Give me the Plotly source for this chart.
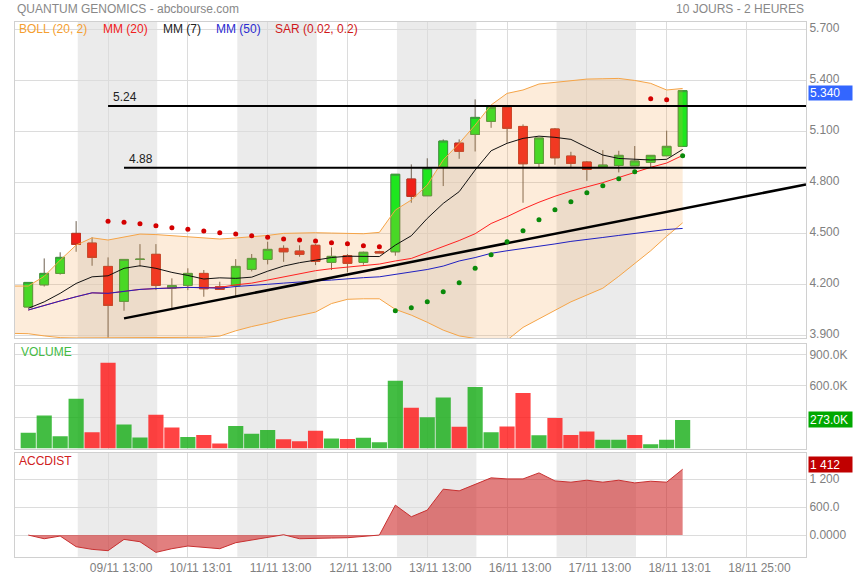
import plotly.graph_objects as go

# ---------------- data ----------------
idx = list(range(42))
opens = [4.07, 4.20, 4.267, 4.502, 4.445, 4.308, 4.103, 4.349, 4.379, 4.181,
         4.197, 4.267, 4.189, 4.195, 4.291, 4.349, 4.414, 4.398, 4.432, 4.332,
         4.371, 4.332, 4.394, 4.394, 4.821, 4.723, 4.890, 5.032, 5.083, 5.160,
         5.242, 5.130, 4.913, 5.115, 4.956, 4.921, 4.891, 4.901, 4.899, 4.919,
         4.958, 5.013]
highs = [4.214, 4.355, 4.391, 4.574, 4.479, 4.361, 4.349, 4.439, 4.439, 4.238,
         4.297, 4.287, 4.218, 4.351, 4.381, 4.453, 4.432, 4.432, 4.439, 4.420,
         4.381, 4.395, 4.400, 4.849, 4.907, 4.943, 5.054, 5.054, 5.289, 5.245,
         5.245, 5.142, 5.062, 5.121, 4.981, 4.927, 4.991, 4.987, 5.015, 4.960,
         5.105, 5.342]
lows = [4.07, 4.19, 4.26, 4.394, 4.312, 3.88, 4.048, 4.306, 4.169, 4.062,
        4.169, 4.130, 4.173, 4.130, 4.279, 4.320, 4.335, 4.365, 4.316, 4.287,
        4.273, 4.318, 4.385, 4.371, 4.682, 4.723, 4.780, 4.940, 4.983, 5.122,
        5.034, 4.682, 4.890, 4.905, 4.890, 4.811, 4.891, 4.860, 4.899, 4.890,
        4.958, 5.013]
closes = [4.214, 4.267, 4.361, 4.437, 4.361, 4.079, 4.349, 4.350, 4.197, 4.195,
          4.267, 4.177, 4.173, 4.308, 4.355, 4.408, 4.394, 4.379, 4.338, 4.367,
          4.326, 4.391, 4.388, 4.849, 4.719, 4.884, 5.044, 4.984, 5.183, 5.242,
          5.119, 4.911, 5.062, 4.946, 4.913, 4.878, 4.903, 4.960, 4.927, 4.960,
          5.013, 5.340]

mm7 = [4.062, 4.10, 4.150, 4.208, 4.247, 4.253, 4.297, 4.312, 4.297, 4.273,
       4.255, 4.234, 4.241, 4.238, 4.245, 4.28, 4.31, 4.33, 4.345, 4.36,
       4.368, 4.368, 4.366, 4.433, 4.488, 4.590, 4.678, 4.747, 4.874, 4.987,
       5.031, 5.060, 5.073, 5.066, 5.054, 5.007, 4.962, 4.942, 4.938, 4.933,
       4.937, 4.995]
mm50 = [4.052, 4.08, 4.105, 4.13, 4.153, 4.150, 4.16, 4.173, 4.178, 4.182,
        4.185, 4.183, 4.18, 4.19, 4.195, 4.203, 4.21, 4.218, 4.223, 4.228,
        4.236, 4.242, 4.247, 4.26, 4.275, 4.29, 4.31, 4.34, 4.36, 4.385,
        4.40, 4.412, 4.425, 4.44, 4.455, 4.465, 4.478, 4.49, 4.503, 4.515,
        4.525, 4.531]
mm20 = [4.052, 4.08, 4.105, 4.13, 4.153, 4.150, 4.16, 4.173, 4.178, 4.182,
        4.185, 4.183, 4.185, 4.20, 4.21, 4.228, 4.245, 4.265, 4.283, 4.295,
        4.305, 4.316, 4.322, 4.34, 4.355, 4.39, 4.425, 4.46, 4.50, 4.56,
        4.60, 4.645, 4.685, 4.72, 4.75, 4.775, 4.80, 4.83, 4.86, 4.89,
        4.915, 4.96]

boll_x = list(range(-1, 42))
boll_up = [4.193, 4.193, 4.25, 4.345, 4.433, 4.476, 4.463, 4.482, 4.498, 4.495,
           4.488, 4.48, 4.472, 4.469, 4.475, 4.482, 4.49, 4.502, 4.505, 4.506,
           4.504, 4.50, 4.50, 4.508, 4.639, 4.698, 4.786, 4.933, 5.031, 5.138,
           5.256, 5.324, 5.344, 5.379, 5.39, 5.40, 5.408, 5.41, 5.412, 5.40,
           5.383, 5.344, 5.353]
boll_lo = [3.915, 3.913, 3.90, 3.89, 3.888, 3.888, 3.888, 3.888, 3.888, 3.888,
           3.888, 3.888, 3.892, 3.899, 3.93, 3.955, 3.975, 4.00, 4.02, 4.04,
           4.09, 4.115, 4.118, 4.118, 4.056, 4.022, 3.98, 3.934, 3.90, 3.885,
           3.87, 3.875, 3.95, 4.00, 4.05, 4.10, 4.14, 4.18, 4.25, 4.326,
           4.40, 4.485, 4.564]

sar = [None, None, None, None, None, 4.574, 4.568, 4.558, 4.547, 4.535,
       4.527, 4.516, 4.506, 4.498, 4.488, 4.480, 4.469, 4.463, 4.457, 4.447,
       4.441, 4.429, 4.424, 4.048, 4.065, 4.100, 4.159, 4.212, 4.298, 4.377,
       4.453, 4.518, 4.582, 4.641, 4.688, 4.741, 4.782, 4.823, 4.864, 5.292,
       5.287, 4.958]

volume = [150e3, 315e3, 118e3, 477e3, 156e3, 821e3, 229e3, 105e3, 324e3, 200e3,
          111e3, 130e3, 48e3, 216e3, 140e3, 178e3, 89e3, 70e3, 169e3, 95e3,
          92e3, 102e3, 60e3, 649e3, 391e3, 299e3, 487e3, 207e3, 589e3, 156e3,
          210e3, 531e3, 127e3, 293e3, 130e3, 162e3, 83e3, 83e3, 130e3, 41e3,
          83e3, 273e3]
vol_up = [1, 1, 1, 1, 0, 0, 1, 1, 0, 0,
          1, 0, 0, 1, 1, 1, 0, 0, 0, 1,
          0, 1, 1, 1, 0, 1, 1, 0, 1, 1,
          0, 0, 1, 0, 0, 0, 1, 1, 0, 1,
          1, 1]

accdist = [0, -79, -21, -250, -307, -336, -93, -143, -372, -293,
           -236, -271, -293, -164, -107, -36, 7, -79, -79, -64,
           -57, -21, 0, 643, 393, 536, 986, 950, 1086, 1229,
           1207, 1207, 1336, 1164, 1136, 1179, 1136, 1179, 1121, 1157,
           1136, 1414]

tick_pos = [5, 10, 15, 20, 25, 30, 35, 40, 45]
tick_text = ["09/11 13:00", "10/11 13:01", "11/11 13:00", "12/11 13:00",
             "13/11 13:00", "16/11 13:00", "17/11 13:00", "18/11 13:01",
             "18/11 25:00"]
session_starts = [3.1, 13.1, 23.1, 33.1]

price_ticks = [3.9, 4.2, 4.5, 4.8, 5.1, 5.4, 5.7]
vol_ticks = [300e3, 600e3, 900e3]
vol_text = ["", "600.0K", "900.0K"]
acc_ticks = [0, 600, 1200]
acc_text = ["0.0000", "600.0", "1 200"]

hline_524 = (5, 5.25, "5.24")
hline_488 = (6, 4.887, "4.88")
trend_x = [6, 48.73]
trend_y = [4.003, 4.789]

# ---------------- figure ----------------
W, H = 855, 580
def py(p):
    return 1 - p / H

GRID = "#dcdcdc"
BORDER = "#d0d0d0"
TXT = "#808080"
FONT = "Liberation Sans, Arial, sans-serif"

fig = go.Figure()

# Bollinger
fig.add_trace(go.Scatter(x=boll_x, y=boll_lo, mode="lines",
                         line=dict(color="#f5a447", width=1), hoverinfo="skip",
                         xaxis="x", yaxis="y"))
fig.add_trace(go.Scatter(x=boll_x, y=boll_up, mode="lines", fill="tonexty",
                         fillcolor="rgba(245,160,70,0.2)",
                         line=dict(color="#f5a447", width=1), hoverinfo="skip",
                         xaxis="x", yaxis="y"))
# moving averages
fig.add_trace(go.Scatter(x=idx, y=mm20, mode="lines",
                         line=dict(color="#ff2020", width=1), xaxis="x", yaxis="y"))
fig.add_trace(go.Scatter(x=idx, y=mm50, mode="lines",
                         line=dict(color="#2020c0", width=1), xaxis="x", yaxis="y"))
fig.add_trace(go.Scatter(x=idx, y=mm7, mode="lines",
                         line=dict(color="#111111", width=1), xaxis="x", yaxis="y"))
# trend line
fig.add_trace(go.Scatter(x=trend_x, y=trend_y, mode="lines",
                         line=dict(color="#000000", width=2.5), xaxis="x", yaxis="y"))

# candles: wicks then bodies
fig.add_trace(go.Candlestick(
    x=idx, open=opens, high=highs, low=lows, close=closes,
    increasing=dict(line=dict(color="#6e6050", width=1), fillcolor="#1ee61e"),
    decreasing=dict(line=dict(color="#6e6050", width=1), fillcolor="#f0201a"),
    xaxis="x", yaxis="y", hoverinfo="skip"))
body_hi = [max(o, c) for o, c in zip(opens, closes)]
body_lo = [min(o, c) for o, c in zip(opens, closes)]
fig.add_trace(go.Candlestick(
    x=idx, open=opens, high=body_hi, low=body_lo, close=closes,
    increasing=dict(line=dict(color="#3c9c3c", width=1), fillcolor="#1ee61e"),
    decreasing=dict(line=dict(color="#c83020", width=1), fillcolor="#f0201a"),
    xaxis="x", yaxis="y", hoverinfo="skip"))

# SAR dots
sar_col = []
for s, h, l in zip(sar, highs, lows):
    if s is None:
        sar_col.append("rgba(0,0,0,0)")
    elif s >= h:
        sar_col.append("#d40000")
    else:
        sar_col.append("#0a8a0a")
fig.add_trace(go.Scatter(x=idx, y=sar, mode="markers",
                         marker=dict(color=sar_col, size=5), xaxis="x", yaxis="y"))

# volume
fig.add_trace(go.Bar(x=idx, y=volume,
                     marker=dict(color=["rgba(20,172,20,0.8)" if u else "rgba(255,20,20,0.8)"
                                        for u in vol_up], line=dict(width=0)),
                     xaxis="x2", yaxis="y2"))
# accdist
fig.add_trace(go.Scatter(x=idx, y=accdist, mode="lines", fill="tozeroy",
                         fillcolor="rgba(205,35,35,0.58)",
                         line=dict(color="#c83030", width=1), xaxis="x3", yaxis="y3"))

xr = [-0.83, 48.73]
xdom = [15 / W, 806 / W]
common_x = dict(range=xr, domain=xdom, tickvals=tick_pos, showgrid=True, gridcolor=GRID,
                gridwidth=1, zeroline=False, showline=True, mirror=True,
                linecolor=BORDER, ticks="", fixedrange=True)

layout = dict(
    width=W, height=H, margin=dict(l=0, r=0, t=0, b=0),
    paper_bgcolor="white", plot_bgcolor="white", showlegend=False,
    font=dict(family=FONT, size=12, color=TXT),
    boxgap=0.22, bargap=0.05, hovermode=False,
    xaxis=dict(common_x, anchor="y", showticklabels=False, rangeslider=dict(visible=False)),
    xaxis2=dict(common_x, anchor="y2", showticklabels=False),
    xaxis3=dict(common_x, anchor="y3", showticklabels=True, ticktext=tick_text,
                ticklabelshift=13, tickfont=dict(size=12, color=TXT)),
    yaxis=dict(domain=[py(338.3), py(21.7)], range=[3.886, 5.745], side="right",
               tickvals=price_ticks, ticktext=["%.3f" % v for v in price_ticks],
               ticklabelshift=-2,
               showgrid=True, gridcolor=GRID, zeroline=False, showline=True,
               mirror=True, linecolor=BORDER, ticks="", anchor="x", automargin=False),
    yaxis2=dict(domain=[py(448.5), py(344)], range=[0, 1.0e6], side="right",
                tickvals=vol_ticks, ticktext=vol_text, showgrid=True, gridcolor=GRID,
                zeroline=False, showline=True, mirror=True, linecolor=BORDER,
                ticks="", anchor="x2", automargin=False),
    yaxis3=dict(domain=[py(556.7), py(452.7)], range=[-465, 1770], side="right",
                tickvals=acc_ticks, ticktext=acc_text, showgrid=True, gridcolor=GRID,
                zeroline=False, showline=True, mirror=True, linecolor=BORDER,
                ticks="", anchor="x3", automargin=False),
)
fig.update_layout(**layout)

# session shading
shapes = []
for s in session_starts:
    for yr in ["y domain", "y2 domain", "y3 domain"]:
        xa = {"y domain": "x", "y2 domain": "x2", "y3 domain": "x3"}[yr]
        shapes.append(dict(type="rect", xref=xa, yref=yr, x0=s, x1=s + 4.98, y0=0, y1=1,
                           fillcolor="#ebebeb", line=dict(width=0), layer="below"))
# horizontal levels
for (x0, yv, lab) in [hline_524, hline_488]:
    shapes.append(dict(type="line", xref="x", yref="y", x0=x0, x1=50, y0=yv, y1=yv,
                       line=dict(color="#000000", width=2)))
fig.update_layout(shapes=shapes)

ann = []
def text(x, y, t, color, size=12, xanchor="left", **kw):
    ann.append(dict(xref="paper", yref="paper", x=x / W, y=py(y), text=t, showarrow=False,
                    xanchor=xanchor, yanchor="middle", font=dict(color=color, size=size,
                                                                 family=FONT), **kw))

text(15, 9, "QUANTUM GENOMICS - abcbourse.com", "#888888", 12)
text(806, 9, "10 JOURS - 2 HEURES", "#888888", 12, xanchor="right")
text(17, 29, "BOLL (20, 2)", "#f5a030")
text(101, 29, "MM (20)", "#f02020")
text(161, 29, "MM (7)", "#222222")
text(214, 29, "MM (50)", "#2a2ad0")
text(273, 29, "SAR (0.02, 0.2)", "#d01818")
text(19, 352, "VOLUME", "#44bb44")
text(17, 461, "ACCDIST", "#d02020")

for (x0, yv, lab) in [hline_524, hline_488]:
    ann.append(dict(xref="x", yref="y", x=x0, y=yv, text=lab, showarrow=False,
                    xanchor="left", yanchor="bottom", xshift=3, yshift=0,
                    font=dict(color="#222222", size=12, family=FONT)))

def lastbox(yref, yv, t, bg, yshift=0, h=13):
    ann.append(dict(xref="paper", yref=yref, x=808 / W, y=yv, text=t, showarrow=False,
                    xanchor="left", yanchor="middle", bgcolor=bg, width=41, height=h,
                    align="left", borderpad=1, yshift=yshift,
                    font=dict(color="white", size=12, family=FONT)))

lastbox("y", closes[-1], "%.3f" % closes[-1], "#3366ff", yshift=-2, h=12)
lastbox("y2", volume[-1], "%.1fK" % (volume[-1] / 1000), "#00a800")
lastbox("y3", accdist[-1], "1 412", "#c00000", yshift=5)
fig.update_layout(annotations=ann)

fig.write_html("out.html", config={"displayModeBar": False},
               post_script="document.body.style.margin='0';")
